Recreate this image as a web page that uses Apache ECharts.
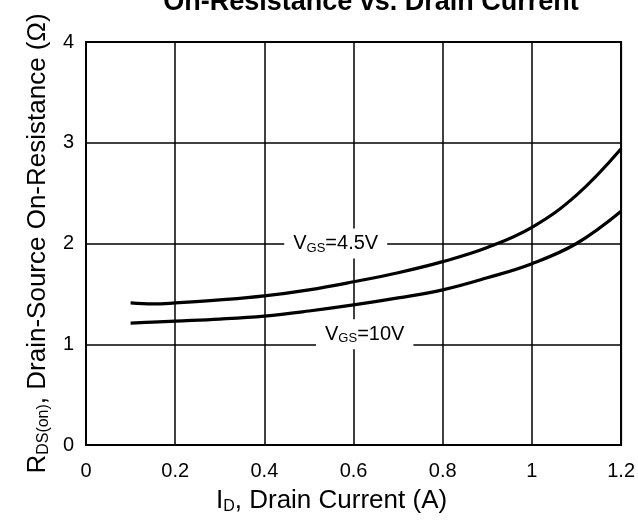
<!DOCTYPE html>
<html>
<head>
<meta charset="utf-8">
<script src="https://cdn.jsdelivr.net/npm/echarts@6/dist/echarts.min.js"></script>
<style>
  html, body { margin: 0; padding: 0; background: #fff; }
  #chart { width: 638px; height: 526px; }
</style>
</head>
<body>
<div id="chart"></div>
<script>
// drain current (A)
const currents = [0.1, 0.15, 0.2, 0.3, 0.4, 0.5, 0.6, 0.7, 0.8, 0.9, 1.0, 1.1, 1.2];
// RDS(on) at VGS = 4.5V and 10V (ohm)
const rdsVgs45 = [1.41, 1.40, 1.41, 1.44, 1.48, 1.54, 1.62, 1.71, 1.82, 1.96, 2.16, 2.48, 2.94];
const rdsVgs10 = [1.21, 1.22, 1.23, 1.25, 1.28, 1.33, 1.39, 1.46, 1.54, 1.66, 1.80, 2.00, 2.32];
const xTicks = { min: 0, max: 1.2, step: 0.2 };
const yTicks = { min: 0, max: 4, step: 1 };

const font = '"Liberation Sans", Arial, sans-serif';
const chart = echarts.init(document.getElementById('chart'));

const sub = { fontSize: 13, fontFamily: font, color: '#000', verticalAlign: 'bottom', lineHeight: 12 };

function pairs(ys) {
  return currents.map((x, i) => [x, ys[i]]);
}

function curveTag(text, coord) {
  return {
    symbol: 'circle',
    symbolSize: 0,
    data: [{ coord: coord }],
    label: {
      show: true,
      position: 'inside',
      formatter: text,
      backgroundColor: '#fff',
      padding: [4, 9, 4, 9],
      rich: {
        m: { fontSize: 20, fontFamily: font, color: '#000', lineHeight: 22 },
        s: sub
      }
    }
  };
}

const option = {
  animation: false,
  backgroundColor: '#fff',
  title: {
    text: 'On-Resistance vs. Drain Current',
    left: 371,
    textAlign: 'center',
    top: -11,
    padding: 0,
    textStyle: { fontSize: 27, fontWeight: 'bold', fontFamily: font, color: '#000' }
  },
  grid: {
    left: 86, right: 16, top: 42, bottom: 81,
    show: true, borderColor: '#000', borderWidth: 2
  },
  xAxis: {
    type: 'value',
    min: xTicks.min, max: xTicks.max, interval: xTicks.step,
    name: '{m|I}{s|D}{m|, Drain Current (A)}',
    nameLocation: 'middle',
    nameGap: 42,
    nameTextStyle: {
      padding: [0, 44, 0, 0],
      rich: { m: { fontSize: 26, fontFamily: font, color: '#000', lineHeight: 28 }, s: { ...sub, fontSize: 16 } }
    },
    axisLine: { lineStyle: { color: '#000', width: 2 } },
    axisTick: { show: false },
    axisLabel: { fontSize: 20, fontFamily: font, color: '#000', margin: 16 },
    splitLine: { show: true, lineStyle: { color: '#000', width: 1.5 } }
  },
  yAxis: {
    type: 'value',
    min: yTicks.min, max: yTicks.max, interval: yTicks.step,
    name: '{m|R}{s|DS(on)}{m|, Drain-Source On-Resistance (Ω)}',
    nameLocation: 'middle',
    nameGap: 24,
    nameTextStyle: {
      rich: { m: { fontSize: 26, fontFamily: font, color: '#000', lineHeight: 28 }, s: { ...sub, fontSize: 16 } }
    },
    axisLine: { show: true, lineStyle: { color: '#000', width: 2 } },
    axisTick: { show: false },
    axisLabel: { fontSize: 20, fontFamily: font, color: '#000', margin: 12 },
    splitLine: { show: true, lineStyle: { color: '#000', width: 1.5 } }
  },
  series: [
    {
      name: 'VGS=4.5V',
      type: 'line',
      data: pairs(rdsVgs45),
      smooth: 0.4,
      showSymbol: false,
      lineStyle: { color: '#000', width: 3.2 },
      markPoint: curveTag('{m|V}{s|GS}{m|=4.5V}', [0.56, 2.0])
    },
    {
      name: 'VGS=10V',
      type: 'line',
      data: pairs(rdsVgs10),
      smooth: 0.4,
      showSymbol: false,
      lineStyle: { color: '#000', width: 3.2 },
      markPoint: curveTag('{m|V}{s|GS}{m|=10V}', [0.625, 1.1])
    }
  ]
};

chart.setOption(option);
</script>
</body>
</html>
